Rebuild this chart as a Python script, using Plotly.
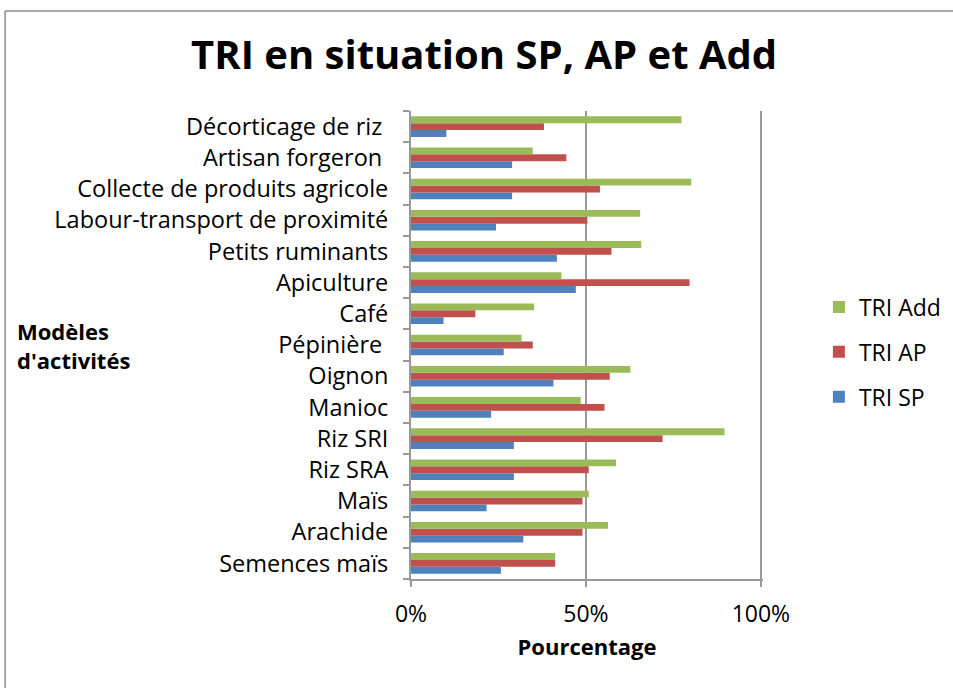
import plotly.graph_objects as go

categories = ["Semences maïs", "Arachide", "Maïs", "Riz SRA", "Riz SRI", "Manioc", "Oignon",
              "Pépinière ", "Café", "Apiculture", "Petits ruminants",
              "Labour-transport de proximité", "Collecte de produits agricole",
              "Artisan forgeron ", "Décorticage de riz "]
tri_sp = [25.7, 32.1, 21.6, 29.4, 29.4, 22.9, 40.7, 26.5, 9.3, 47.1, 41.7, 24.3, 28.9, 28.9, 10.1]
tri_ap = [41.2, 49.0, 49.0, 50.8, 71.9, 55.3, 56.8, 34.8, 18.4, 79.6, 57.3, 50.4, 54.0, 44.4, 38.0]
tri_add = [41.2, 56.3, 50.8, 58.6, 89.6, 48.5, 62.7, 31.6, 35.2, 43.0, 65.8, 65.5, 80.1, 34.8, 77.3]
x_tick_values = [0, 50, 100]
x_tick_labels = ["0%", "50%", "100%"]

series_names = ["TRI SP", "TRI AP", "TRI Add"]
legend_ranks = [3, 2, 1]
colors = ["#4F81BD", "#C0504D", "#9BBB59"]
FONT = "Open Sans"

XMAX = 100.6
L, T, H = 411, 111, 468
W = 350 * XMAX / 100.0

fig = go.Figure()
for name, vals, col, rk in zip(series_names, [tri_sp, tri_ap, tri_add], colors, legend_ranks):
    fig.add_trace(go.Bar(y=categories, x=vals, name=name, orientation="h", legendgroup=name,
                         legendrank=rk, marker=dict(color=col, line=dict(width=0))))

fig.update_layout(
    width=953, height=688, autosize=False,
    paper_bgcolor="white", plot_bgcolor="white",
    margin=dict(l=L, r=953 - L - W, t=T, b=688 - T - H, autoexpand=False),
    barmode="group", bargap=0.34, bargroupgap=0,
    font=dict(family=FONT, color="black"),
    title=dict(text="<b>TRI en situation SP, AP et Add</b>", x=0.508, xanchor="center",
               y=0.92, yanchor="middle", font=dict(size=40, family=FONT)),
    legend=dict(traceorder="grouped", x=(819 - L) / W, y=0.485, xanchor="left", yanchor="middle",
                font=dict(size=23, family=FONT), itemsizing="constant",
                tracegroupgap=12, itemwidth=30),
    showlegend=True,
)
fig.update_xaxes(range=[0, XMAX], tickvals=x_tick_values, ticktext=x_tick_labels, showgrid=True,
                 automargin=False, gridcolor="#999999", gridwidth=2, showline=True, linecolor="#999999",
                 linewidth=2, ticks="outside", ticklen=6, tickcolor="#999999", tickwidth=2,
                 tickfont=dict(size=23, family=FONT), zeroline=False, ticklabelstandoff=7,
                 title=dict(text="<b>Pourcentage</b>", font=dict(size=22, family=FONT), standoff=12))
fig.update_yaxes(showline=True, linecolor="#999999", linewidth=2, ticks="outside", automargin=False,
                 tickson="boundaries", ticklen=6, tickcolor="#999999", tickwidth=2,
                 tickfont=dict(size=23.5, family=FONT), showgrid=False, ticklabelstandoff=16)

fig.add_annotation(text="<b>Modèles<br>d'activités</b>", xref="paper", yref="paper",
                   x=(73 - L) / W, y=(T + H - 345) / H, xanchor="center", yanchor="middle",
                   showarrow=False, align="left", font=dict(size=22, family=FONT))

# chart border
top = (T + H - 11) / H
left = (5 - L) / W
fig.add_shape(type="line", xref="paper", yref="paper", x0=left, x1=(970 - L) / W,
              y0=top, y1=top, line=dict(color="#8c8c8c", width=1.5))
fig.add_shape(type="line", xref="paper", yref="paper", x0=left, x1=left,
              y0=top, y1=(T + H - 700) / H, line=dict(color="#8c8c8c", width=1.5))

fig.write_html("out.html", config={"displayModeBar": False},
               post_script="document.body.style.margin='0px';")
